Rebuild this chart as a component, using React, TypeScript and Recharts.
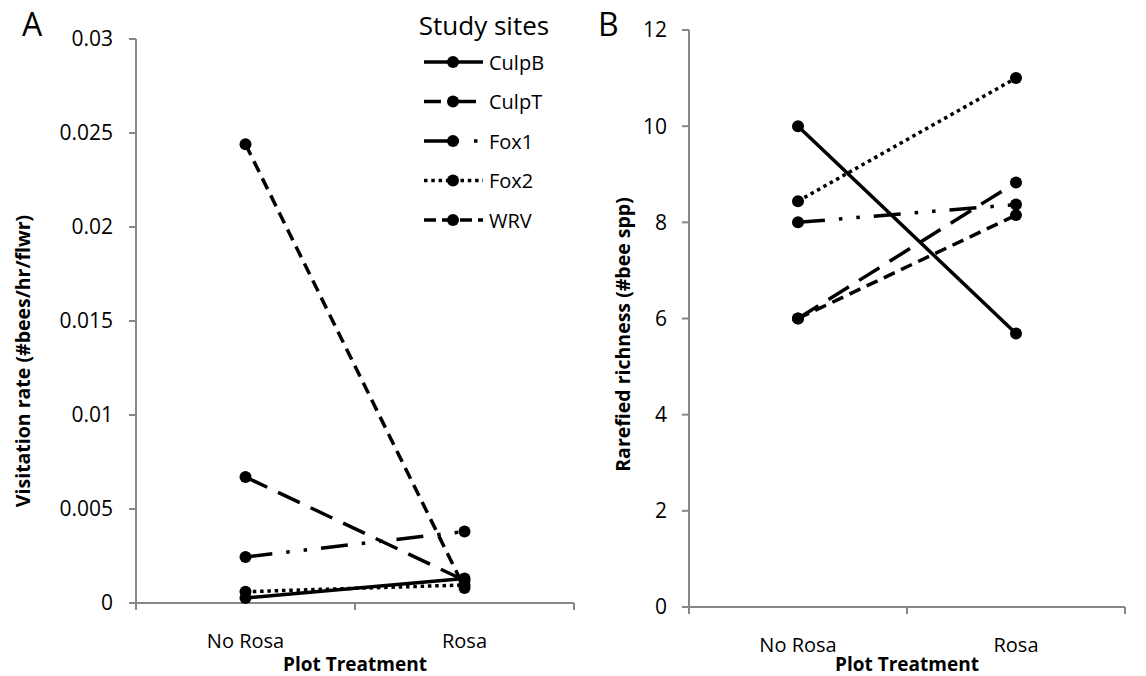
import { ComposedChart, Line, XAxis, YAxis, Legend, Label } from "recharts";

const categories = ["No Rosa", "Rosa"];
const sites = ["CulpB", "CulpT", "Fox1", "Fox2", "WRV"];
// visitation rate (#bees/hr/flwr), one value per site
const visitationNoRosa = [0.00027, 0.0067, 0.00245, 0.0006, 0.0244];
const visitationRosa = [0.0013, 0.0012, 0.0038, 0.00096, 0.0008];
// rarefied richness (#bee spp)
const richnessNoRosa = [10, 6, 8, 8.44, 6];
const richnessRosa = [5.69, 8.83, 8.37, 11, 8.15];
const visitationTicks = [0, 0.005, 0.01, 0.015, 0.02, 0.025, 0.03];
const richnessTicks = [0, 2, 4, 6, 8, 10, 12];

const dashes: Record<string, string | undefined> = {
  CulpB: undefined,
  CulpT: "24 12",
  Fox1: "27 14 3.5 14 3.5 14",
  Fox2: "3.5 3.8",
  WRV: "12 7",
};
// the legend swatches are short, so they get their own patterns
const legendDashes: Record<string, string | undefined> = {
  CulpB: undefined,
  CulpT: "17 9 26 100",
  Fox1: "35 15 3.5 100",
  Fox2: "3.5 3.8",
  WRV: "12 6",
};

const axisColor = "#878787";
const font = "'Open Sans', sans-serif";

function buildRows(noRosa: number[], rosa: number[]) {
  return categories.map((c, ci) => {
    const row: Record<string, any> = { treatment: c };
    sites.forEach((s, si) => {
      row[s] = ci === 0 ? noRosa[si] : rosa[si];
    });
    return row;
  });
}

const visitationData = buildRows(visitationNoRosa, visitationRosa);
const richnessData = buildRows(richnessNoRosa, richnessRosa);

function CategoryTick({ x, y, payload }: any) {
  const half = payload?.offset ?? 0;
  return (
    <g>
      <line x1={x - half} y1={y} x2={x - half} y2={y + 7} stroke={axisColor} strokeWidth={2} />
      <line x1={x + half} y1={y} x2={x + half} y2={y + 7} stroke={axisColor} strokeWidth={2} />
      <text x={x} y={y + 37} textAnchor="middle" dominantBaseline="central" fontSize={20} fill="#000">
        {payload.value}
      </text>
    </g>
  );
}

const xTitle = (dy: number) => (props: any) => {
  const vb = props.viewBox;
  return (
    <text
      x={vb.x + vb.width / 2}
      y={vb.y + dy}
      textAnchor="middle"
      dominantBaseline="central"
      fontSize={19}
      fontWeight="bold"
      fill="#000"
    >
      Plot Treatment
    </text>
  );
};

const yTitle = (text: string, dx: number, dy: number) => (props: any) => {
  const vb = props.viewBox;
  const cx = vb.x + dx;
  const cy = vb.y + vb.height / 2 + dy;
  return (
    <text
      x={cx}
      y={cy}
      transform={`rotate(-90, ${cx}, ${cy})`}
      textAnchor="middle"
      dominantBaseline="central"
      fontSize={19.5}
      fontWeight="bold"
      fill="#000"
    >
      {text}
    </text>
  );
};

function SiteLegend() {
  return (
    <svg width={175} height={240}>
      <text x={74} y={25} textAnchor="middle" dominantBaseline="central" fontSize={26} fill="#000">
        Study sites
      </text>
      {sites.map((s, i) => {
        const cy = 62 + i * 39.5;
        return (
          <g key={s}>
            <line
              x1={14}
              x2={73}
              y1={cy}
              y2={cy}
              stroke="#000"
              strokeWidth={3.5}
              strokeDasharray={legendDashes[s]}
            />
            <circle cx={43} cy={cy} r={6} fill="#000" />
            <text x={79} y={cy} dominantBaseline="central" fontSize={20} fill="#000">
              {s}
            </text>
          </g>
        );
      })}
    </svg>
  );
}

function siteLines() {
  return sites.map((s) => (
    <Line
      key={s}
      type="linear"
      dataKey={s}
      stroke="#000"
      strokeWidth={3.5}
      strokeDasharray={dashes[s]}
      dot={{ r: 6, fill: "#000", stroke: "none" }}
      activeDot={false}
      isAnimationActive={false}
    />
  ));
}

export default function App() {
  return (
    <div
      style={{
        position: "absolute",
        left: 0,
        top: 0,
        width: 1146,
        height: 676,
        background: "#fff",
        fontFamily: font,
        overflow: "hidden",
      }}
    >
      <div style={{ position: "absolute", left: 22, top: 4, fontSize: 32, lineHeight: "40px" }}>A</div>
      <div style={{ position: "absolute", left: 598, top: 4, fontSize: 32, lineHeight: "40px" }}>B</div>

      <div style={{ position: "absolute", left: 0, top: 0 }}>
        <ComposedChart
          width={580}
          height={676}
          data={visitationData}
          margin={{ top: 39, right: 6, bottom: 13, left: 0 }}
        >
          <XAxis
            dataKey="treatment"
            scale="band"
            height={60}
            interval={0}
            axisLine={{ stroke: axisColor, strokeWidth: 2 }}
            tickLine={false}
            tickSize={0}
            tickMargin={0}
            tick={<CategoryTick />}
          >
            <Label content={xTitle(61)} />
          </XAxis>
          <YAxis
            width={136}
            domain={[0, 0.03]}
            ticks={visitationTicks}
            interval={0}
            tickFormatter={(v: number) => String(+v.toFixed(3))}
            axisLine={{ stroke: axisColor, strokeWidth: 2 }}
            tickLine={{ stroke: axisColor, strokeWidth: 2 }}
            tickSize={7}
            tickMargin={16}
            tick={{ fontSize: 21, fill: "#000" }}
          >
            <Label content={yTitle("Visitation rate (#bees/hr/flwr)", 22, 40)} />
          </YAxis>
          <Legend
            layout="horizontal"
            verticalAlign="middle"
            align="center"
            content={<SiteLegend />}
            wrapperStyle={{ position: "absolute", left: 410, top: 0, width: 175, height: 240 }}
          />
          {siteLines()}
        </ComposedChart>
      </div>

      <div style={{ position: "absolute", left: 560, top: 0 }}>
        <ComposedChart
          width={586}
          height={676}
          data={richnessData}
          margin={{ top: 30, right: 21, bottom: 9, left: 0 }}
        >
          <XAxis
            dataKey="treatment"
            scale="band"
            height={60}
            interval={0}
            axisLine={{ stroke: axisColor, strokeWidth: 2 }}
            tickLine={false}
            tickSize={0}
            tickMargin={0}
            tick={<CategoryTick />}
          >
            <Label content={xTitle(57)} />
          </XAxis>
          <YAxis
            width={129}
            domain={[0, 12]}
            ticks={richnessTicks}
            interval={0}
            axisLine={{ stroke: axisColor, strokeWidth: 2 }}
            tickLine={{ stroke: axisColor, strokeWidth: 2 }}
            tickSize={7}
            tickMargin={15}
            tick={{ fontSize: 21, fill: "#000" }}
          >
            <Label content={yTitle("Rarefied richness (#bee spp)", 62, 16)} />
          </YAxis>
          {siteLines()}
        </ComposedChart>
      </div>
    </div>
  );
}
